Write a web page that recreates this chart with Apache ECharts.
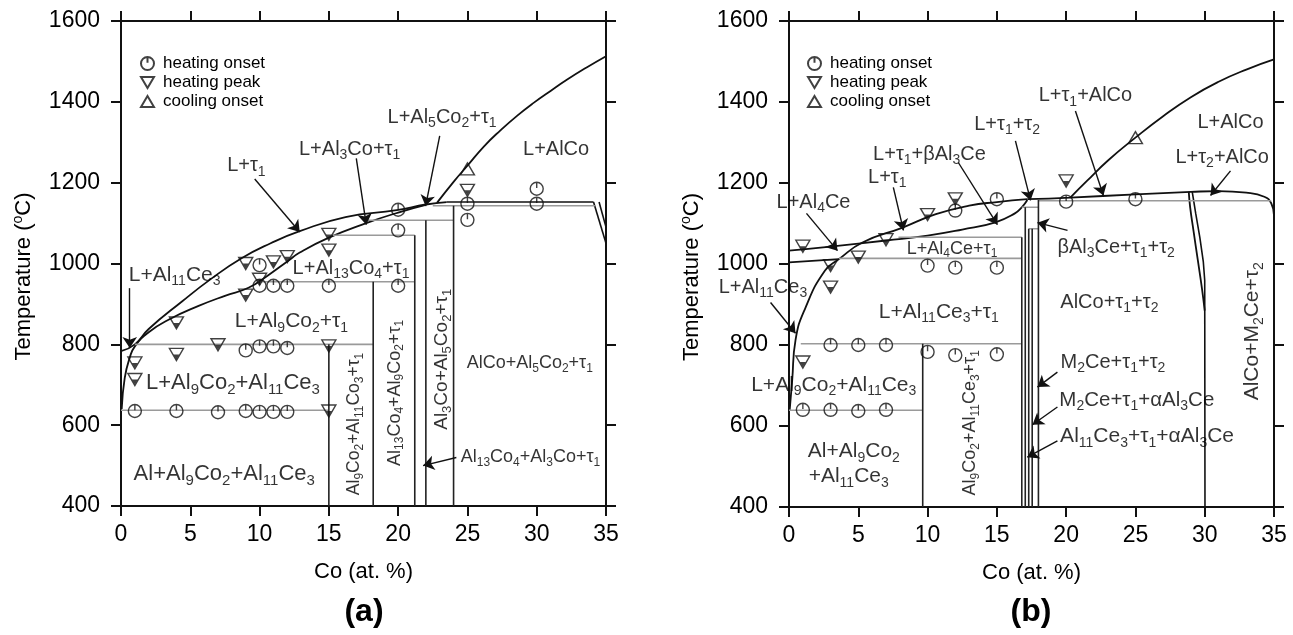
<!DOCTYPE html>
<html><head><meta charset="utf-8">
<script src="https://cdn.jsdelivr.net/npm/echarts@6/dist/echarts.min.js"></script>
<style>html,body{margin:0;padding:0;background:#fff}#c{width:1293px;height:635px}</style>
</head><body><div id="c"></div>
<script>
// ---------- axes ----------
const coTicks = [0, 5, 10, 15, 20, 25, 30, 35];
const tempTicks = [400, 600, 800, 1000, 1200, 1400, 1600];

// ---------- panel (a) ----------
const aUpper = [[0,783],[1,800],[2,838],[4.4,906],[6.5,962],[8.7,1013],[10.8,1050],[12.9,1080],[16.2,1115],[19.9,1132],[22,1146],[23.5,1152]];
const aLower = [[0.05,640],[0.27,717],[0.63,767],[1.0,795],[2,830],[3.5,862],[5.6,895],[7.5,920],[9.2,940],[10.5,968],[12,1005],[12.9,1027],[15,1064],[17.7,1100],[20,1126],[22,1145]];
const aAlCo = [[22.8,1150],[24,1202],[25,1242],[26.2,1290],[27.4,1330],[28.6,1366],[29.8,1398],[31,1427],[32.2,1455],[33.6,1485],[35,1513]];
const aFlat = [[23.5,1152],[34.1,1152]];
const aDrop1 = [[34.1,1152],[35,1050]];
const aDrop2 = [[34.5,1152],[35,1090]];
const aIsotherms = [[[0,637],[15,637]], [[1.0,800],[18.2,800]], [[9.9,955],[21.2,955]], [[15.3,1070],[21.2,1070]], [[17.8,1107],[24,1107]], [[22.5,1143],[34.2,1143]]];
const aVerticals = [[15,800],[18.2,955],[21.2,1070],[22,1107],[24,1143]];
const aOnset = [[1,635],[4,635],[7,632],[9,635],[10,633],[11,633],[12,633],[9,785],[10,795],[11,795],[12,791],[10,945],[11,945],[12,945],[15,945],[20,945],[10,996],[20,1082],[20,1133],[25,1148],[25,1108],[30,1148],[30,1185]];
const aPeak = [[1,754],[1,713],[4,853],[4,775],[7,799],[9,1000],[9,922],[10,961],[11,1004],[12,1017],[15,1072],[15,1033],[15,796],[15,635],[25,1181]];
const aCool = [[25,1234]];

// ---------- panel (b) ----------
const bAl4Ce = [[0,1033],[3,1043],[7,1058],[10,1070],[12.5,1085],[14.9,1103],[16.3,1125],[16.8,1140],[17.2,1158]];
const bLowLine = [[0,1004],[3.6,1012]];
const bTau1 = [[0.05,640],[0.23,713],[0.47,812],[1.2,893],[2.6,984],[3.6,1012],[5.3,1053],[8.2,1090],[10.6,1123],[13,1144],[15,1153],[17.2,1160]];
const bTop = [[17.2,1160],[20.3,1164],[25,1172],[29,1178],[31,1180],[33,1176],[34.3,1166],[34.8,1150],[35,1120]];
const bAlCo = [[20.3,1164],[21.5,1205],[23,1255],[25,1312],[27,1365],[29,1412],[31,1450],[33,1480],[35,1505]];
const bLensL = [[28.85,1178],[28.95,1140],[29.2,1080],[29.5,1010],[29.8,940],[30.0,885]];
const bLensR = [[29.1,1178],[29.35,1125],[29.65,1065],[29.9,1005],[30.0,960],[30.02,400]];
const bIsotherms = [[[0,639],[9.65,639]], [[0.85,803],[16.8,803]], [[3.6,1014],[16.8,1014]], [[7.9,1066],[16.8,1066]], [[16.8,1140],[18.0,1140]], [[17.3,1087],[18.0,1087]], [[18.0,1156],[34.8,1156]]];
const bVerticals = [[9.65,803],[16.8,1066],[17.05,1140],[17.3,1087],[17.55,1087],[18.0,1158]];
const bOnset = [[1,640],[3,640],[5,637],[7,640],[3,800],[5,800],[7,800],[10,783],[12,775],[15,777],[10,996],[12,991],[15,991],[12,1132],[15,1160],[20,1154],[25,1160]];
const bPeak = [[1,1044],[3,996],[3,943],[5,1017],[7,1060],[10,1122],[12,1161],[1,758],[20,1205]];
const bCool = [[25,1312]];

// ---------- annotations: [text, x, T, fontSize, rotate] ----------
const aLabels = [
  ['L+τ{s|1}', 9.05, 1242, 20],
  ['L+Al{s|3}Co+τ{s|1}', 16.5, 1283, 20],
  ['L+Al{s|5}Co{s|2}+τ{s|1}', 23.17, 1361, 20],
  ['L+AlCo', 31.4, 1283, 20],
  ['L+Al{s|11}Ce{s|3}', 3.87, 972, 21],
  ['L+Al{s|13}Co{s|4}+τ{s|1}', 16.6, 988, 20],
  ['L+Al{s|9}Co{s|2}+τ{s|1}', 12.3, 857, 21],
  ['L+Al{s|9}Co{s|2}+Al{s|11}Ce{s|3}', 8.08, 705, 22],
  ['Al+Al{s|9}Co{s|2}+Al{s|11}Ce{s|3}', 7.45, 480, 22],
  ['Al{s|9}Co{s|2}+Al{s|11}Co{s|3}+τ{s|1}', 16.86, 603, 17.5, 90],
  ['Al{s|13}Co{s|4}+Al{s|9}Co{s|2}+τ{s|1}', 19.75, 680, 18, 90],
  ['Al{s|3}Co+Al{s|5}Co{s|2}+τ{s|1}', 23.12, 763, 19, 90],
  ['AlCo+Al{s|5}Co{s|2}+τ{s|1}', 29.5, 754, 18],
  ['Al{s|13}Co{s|4}+Al{s|3}Co+τ{s|1}', 29.55, 520, 18]
];
const aArrows = [
  [9.65,1209,12.9,1078], [16.98,1260,17.7,1096], [23.0,1316,21.98,1142],
  [0.63,939,0.63,791], [24.2,520,21.8,500]
];
const bLabels = [
  ['L+τ{s|1}+AlCo', 21.39, 1415, 20],
  ['L+AlCo', 31.86, 1349, 20],
  ['L+τ{s|2}+AlCo', 31.26, 1263, 20],
  ['L+τ{s|1}+τ{s|2}', 15.74, 1345, 20],
  ['L+τ{s|1}+βAl{s|3}Ce', 10.14, 1271, 20],
  ['L+τ{s|1}', 7.09, 1214, 20],
  ['L+Al{s|4}Ce', 1.77, 1152, 20],
  ['L+Al{s|4}Ce+τ{s|1}', 11.77, 1038, 18],
  ['L+Al{s|11}Ce{s|3}', -1.88, 943, 20],
  ['L+Al{s|11}Ce{s|3}+τ{s|1}', 10.81, 882, 21],
  ['βAl{s|3}Ce+τ{s|1}+τ{s|2}', 23.61, 1042, 20],
  ['AlCo+τ{s|1}+τ{s|2}', 23.12, 906, 20],
  ['M{s|2}Ce+τ{s|1}+τ{s|2}', 23.38, 758, 20],
  ['M{s|2}Ce+τ{s|1}+αAl{s|3}Ce', 25.1, 664, 20.5],
  ['Al{s|11}Ce{s|3}+τ{s|1}+αAl{s|3}Ce', 25.84, 574, 21],
  ['L+Al{s|9}Co{s|2}+Al{s|11}Ce{s|3}', 3.23, 701, 21],
  ['Al+Al{s|9}Co{s|2}', 4.68, 537, 21],
  ['+Al{s|11}Ce{s|3}', 4.31, 475, 21],
  ['Al{s|9}Co{s|2}+Al{s|11}Ce{s|3}+τ{s|1}', 13.1, 608, 18, 90],
  ['AlCo+M{s|2}Ce+τ{s|2}', 33.44, 834, 21, 90]
];
const bArrows = [
  [20.67,1378,22.69,1169], [31.86,1230,30.42,1169], [16.34,1304,17.43,1157],
  [12.23,1250,15.04,1097], [7.53,1189,8.26,1083], [1.26,1125,3.5,1033],
  [-1.33,905,0.47,829], [20.1,1083,17.93,1102], [19.37,733,17.93,696],
  [19.37,647,17.57,603], [19.37,563,17.2,523]
];

// ---------- styling ----------
const FONT = '"Liberation Sans", Arial, Helvetica, sans-serif';
const INK = '#000';
const GRAY = '#9a9a9a';
const onsetSym = 'path://M10,1A9,9,0,1,1,9.99,1ZM10,1L10,9';
const peakSym = 'path://M0,0L20,0L10,17Z';
const peakDot = 'path://M0,0L10,0L5,8Z';
const coolSym = 'path://M10,0L20,17L0,17Z';

function xAx(grid, pos) {
  const bottom = pos === 'bottom';
  return {
    type: 'value', gridIndex: grid, position: pos,
    min: coTicks[0], max: coTicks[coTicks.length - 1], interval: coTicks[1] - coTicks[0],
    axisLine: { onZero: false, lineStyle: { color: '#111', width: 2 } },
    axisTick: { show: true, length: 10, lineStyle: { color: '#111', width: 2 } },
    axisLabel: { show: bottom, fontSize: 23, color: INK, margin: 17, fontFamily: FONT, formatter: function (v) { return String(v); } },
    splitLine: { show: false },
    name: bottom ? 'Co (at. %)' : '', nameLocation: 'middle', nameGap: 55,
    nameTextStyle: { fontSize: 22, color: INK, fontFamily: FONT }
  };
}
function yAx(grid, pos) {
  const left = pos === 'left';
  return {
    type: 'value', gridIndex: grid, position: pos,
    min: tempTicks[0], max: tempTicks[tempTicks.length - 1], interval: tempTicks[1] - tempTicks[0],
    axisLine: { onZero: false, lineStyle: { color: '#111', width: 2 } },
    axisTick: { show: true, length: 10, lineStyle: { color: '#111', width: 2 } },
    axisLabel: { show: left, fontSize: 23, color: INK, margin: 21, fontFamily: FONT, formatter: function (v) { return String(v); } },
    splitLine: { show: false },
    name: left ? 'Temperature ({sup|o}C)' : '', nameLocation: 'middle', nameGap: 84,
    nameTextStyle: { fontSize: 22, color: INK, fontFamily: FONT, lineHeight: 26, padding: [0, 26, 0, 0],
      rich: { sup: { fontSize: 14, lineHeight: 14, verticalAlign: 'top', color: INK, fontFamily: FONT } } }
  };
}
function lineS(data, ai, color, width, smooth) {
  return { type: 'line', xAxisIndex: ai, yAxisIndex: ai, data: data, symbol: 'none', showSymbol: false,
    smooth: smooth || false, lineStyle: { color: color, width: width }, silent: true, z: 3, animation: false };
}
function markerS(name, data, ai, sym, size, extra) {
  return Object.assign({ type: 'scatter', name: name, xAxisIndex: ai, yAxisIndex: ai, data: data,
    symbol: sym, symbolSize: size, silent: true, z: 6, animation: false,
    itemStyle: { color: 'rgba(255,255,255,0)', borderColor: '#111', borderWidth: 1.4 } }, extra || {});
}
function labelS(list, ai) {
  return { type: 'scatter', xAxisIndex: ai, yAxisIndex: ai, symbolSize: 1, silent: true, clip: false, z: 7,
    itemStyle: { color: 'rgba(0,0,0,0)' }, animation: false,
    data: list.map(function (l) {
      const size = l[3], sub = Math.round(size * 0.68);
      return { value: [l[1], l[2]], label: {
        show: true, position: 'inside', formatter: l[0], rotate: l[4] || 0,
        fontSize: size, lineHeight: Math.round(size * 1.3), color: INK, fontFamily: FONT,
        textBorderWidth: 0,
        rich: { s: { fontSize: sub, lineHeight: sub, verticalAlign: 'bottom', color: INK, fontFamily: FONT } }
      } };
    })
  };
}
function arrowS(list, ai) {
  return { type: 'lines', coordinateSystem: 'cartesian2d', xAxisIndex: ai, yAxisIndex: ai, clip: false,
    symbol: ['none', 'arrow'], symbolSize: 11, silent: true, z: 4, animation: false,
    lineStyle: { color: '#111', width: 1.4, opacity: 1, curveness: 0 },
    data: list.map(function (a) { return { coords: [[a[0], a[1]], [a[2], a[3]]] }; }) };
}
function panel(ai, d) {
  const s = [];
  d.curves.forEach(function (c) { s.push(lineS(c, ai, '#111', 1.8, 0.5)); });
  d.straight.forEach(function (c) { s.push(lineS(c, ai, '#111', 1.6, false)); });
  d.iso.forEach(function (c) { s.push(lineS(c, ai, GRAY, 1.6, false)); });
  d.vert.forEach(function (v) { s.push(lineS([[v[0], v[1]], [v[0], tempTicks[0]]], ai, '#222', 1.6, false)); });
  s.push(markerS('heating onset', d.onset, ai, onsetSym, 13));
  s.push(markerS('heating peak', d.peak, ai, peakSym, [14, 12]));
  s.push(markerS('peakdot', d.peak, ai, peakDot, [6, 5], { symbolOffset: [0, 2.5], itemStyle: { color: '#111' } }));
  s.push(markerS('cooling onset', d.cool, ai, coolSym, [14, 12]));
  s.push(arrowS(d.arrows, ai));
  s.push(labelS(d.labels, ai));
  return s;
}

const series = [].concat(
  panel(0, { curves: [aUpper, aLower, aAlCo], straight: [aFlat, aDrop1, aDrop2], iso: aIsotherms, vert: aVerticals,
    onset: aOnset, peak: aPeak, cool: aCool, arrows: aArrows, labels: aLabels }),
  panel(2, { curves: [bAl4Ce, bTau1, bTop, bAlCo, bLensL], straight: [bLowLine, bLensR], iso: bIsotherms, vert: bVerticals,
    onset: bOnset, peak: bPeak, cool: bCool, arrows: bArrows, labels: bLabels })
);

function legendAt(left) {
  return { data: ['heating onset', 'heating peak', 'cooling onset'], orient: 'vertical', left: left, top: 50,
    itemWidth: 13, itemHeight: 13, itemGap: 2, selectedMode: false,
    textStyle: { fontSize: 17, color: INK, fontFamily: FONT, padding: [0, 0, 0, 4] } };
}

const option = {
  backgroundColor: '#fff',
  animation: false,
  grid: [
    { left: 121, top: 21, width: 485, height: 485 },
    { left: 789, top: 21, width: 485, height: 486 }
  ],
  xAxis: [xAx(0, 'bottom'), xAx(0, 'top'), xAx(1, 'bottom'), xAx(1, 'top')],
  yAxis: [yAx(0, 'left'), yAx(0, 'right'), yAx(1, 'left'), yAx(1, 'right')],
  legend: [legendAt(135), legendAt(802)],
  graphic: [
    { type: 'text', x: 364, y: 612, style: { text: '(a)', font: 'bold 32px "Liberation Sans", Arial, sans-serif', fill: INK, align: 'center', verticalAlign: 'middle', textAlign: 'center', textVerticalAlign: 'middle' } },
    { type: 'text', x: 1031, y: 612, style: { text: '(b)', font: 'bold 32px "Liberation Sans", Arial, sans-serif', fill: INK, align: 'center', verticalAlign: 'middle', textAlign: 'center', textVerticalAlign: 'middle' } }
  ],
  series: series
};
const chart = echarts.init(document.getElementById('c'), null, { renderer: 'canvas' });
chart.setOption(option);
</script></body></html>
